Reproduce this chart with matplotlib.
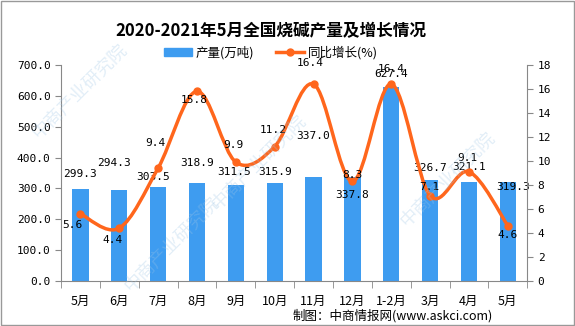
import numpy as np
import matplotlib
matplotlib.use("Agg")
import matplotlib.pyplot as plt
from matplotlib.path import Path
from matplotlib.patches import PathPatch, Patch
from matplotlib.lines import Line2D

plt.rcParams['font.family'] = ['Noto Sans CJK SC', 'DejaVu Sans']

# data
months = ["5月", "6月", "7月", "8月", "9月", "10月", "11月", "12月", "1-2月", "3月", "4月", "5月"]
output = [299.3, 294.3, 303.5, 318.9, 311.5, 315.9, 337.0, 337.8, 627.4, 326.7, 321.1, 319.3]
growth = [5.6, 4.4, 9.4, 15.8, 9.9, 11.2, 16.4, 8.3, 16.4, 7.1, 9.1, 4.6]

# label offsets in pixels (dx, dy)
bar_off = [(0, 10), (-5, 22), (-5, 5), (0, 15), (-2, 8), (0, 6), (0, 36), (0, -23), (0, 8), (0, 7), (0, 10), (5, -10)]
line_off = [(-8, -11), (-7, -12), (-3, 25), (-3, -9), (-2, 17), (-1, 17), (-3, 21), (0, 6), (0, 15), (-1, 9), (-2, 14), (0, -9)]

blue = "#3E9CF0"
orange = "#FF661C"
numfont = dict(family="DejaVu Sans Mono", size=8, color="black")

fig = plt.figure(figsize=(5.75, 3.26), dpi=100)

# faint watermark (drawn under the axes, axes have no face)
for wx, wy in [(0.14, 0.72), (0.45, 0.5), (0.78, 0.45), (0.3, 0.25)]:
    fig.text(wx, wy, "中商产业研究院", rotation=45, fontsize=13, color="#9fc6e6",
             alpha=0.3, ha="center", va="center", zorder=0)

ax = fig.add_axes([0.106, 0.138, 0.811, 0.663])
ax.patch.set_alpha(0)
x = np.arange(len(months))

ax.bar(x, output, width=0.42, color=blue, zorder=2)
ax.set_xlim(-0.5, len(months) - 0.5)
ax.set_ylim(0, 700)
ax.set_yticks(np.arange(0, 701, 100))
ax.set_yticklabels([f"{v:.1f}" for v in np.arange(0, 701, 100)], **numfont)
ax.set_xticks(x)
ax.set_xticklabels(months, fontsize=9)
ax.set_xticks(np.arange(-0.5, len(months), 1), minor=True)
ax.tick_params(axis="x", which="major", length=0, pad=10)
ax.tick_params(axis="x", which="minor", length=5, color="#888888")
ax.tick_params(axis="y", length=4, color="#888888")
for s in ["top", "right"]:
    ax.spines[s].set_visible(False)
for s in ["left", "bottom"]:
    ax.spines[s].set_color("#888888")

ax2 = ax.twinx()
ax2.patch.set_alpha(0)
ax2.set_ylim(0, 18)
ax2.set_yticks(np.arange(0, 19, 2))
ax2.set_yticklabels([str(v) for v in range(0, 19, 2)], **numfont)
ax2.tick_params(axis="y", length=4, color="#888888")
for s in ["top", "left", "bottom"]:
    ax2.spines[s].set_visible(False)
ax2.spines["right"].set_color("#888888")

# smooth line (catmull-rom -> bezier)
xs = x.astype(float)
ys = np.array(growth, dtype=float)
verts = [(xs[0], ys[0])]
codes = [Path.MOVETO]
n = len(xs)
for i in range(n - 1):
    p0 = (xs[max(i - 1, 0)], ys[max(i - 1, 0)])
    p1 = (xs[i], ys[i])
    p2 = (xs[i + 1], ys[i + 1])
    p3 = (xs[min(i + 2, n - 1)], ys[min(i + 2, n - 1)])
    c1 = (p1[0] + (p2[0] - p0[0]) / 6, p1[1] + (p2[1] - p0[1]) / 6)
    c2 = (p2[0] - (p3[0] - p1[0]) / 6, p2[1] - (p3[1] - p1[1]) / 6)
    verts += [c1, c2, p2]
    codes += [Path.CURVE4] * 3
ax2.add_patch(PathPatch(Path(verts, codes), fill=False, edgecolor=orange, lw=2.5, zorder=3))
ax2.plot(xs, ys, "o", color=orange, ms=5, zorder=4)

for i, v in enumerate(output):
    ax.annotate(f"{v:.1f}", (x[i], v), xytext=bar_off[i], textcoords="offset pixels",
                ha="center", va="bottom", zorder=5, **numfont)
for i, v in enumerate(growth):
    ax2.annotate(f"{v:.1f}", (x[i], v), xytext=line_off[i], textcoords="offset pixels",
                 ha="center", va="center", zorder=5, **numfont)

fig.text(0.471, 0.905, "2020-2021年5月全国烧碱产量及增长情况", ha="center", va="center",
         fontsize=12, fontweight="bold")
handles = [Patch(color=blue), Line2D([], [], color=orange, lw=2.5, marker="o", ms=5)]
fig.legend(handles, ["产量(万吨)", "同比增长(%)"], loc="center", bbox_to_anchor=(0.471, 0.838),
           ncol=2, frameon=False, fontsize=9, handlelength=2.2, handleheight=0.6,
           columnspacing=1.8, handletextpad=0.3)
fig.text(0.857, 0.03, "制图：中商情报网(www.askci.com)", ha="right", va="center", fontsize=9)

fig.patches.append(plt.Rectangle((0.001, 0.002), 0.997, 0.995, transform=fig.transFigure,
                                 fill=False, edgecolor="#999999", lw=1))
fig.savefig("out.png", dpi=100)
